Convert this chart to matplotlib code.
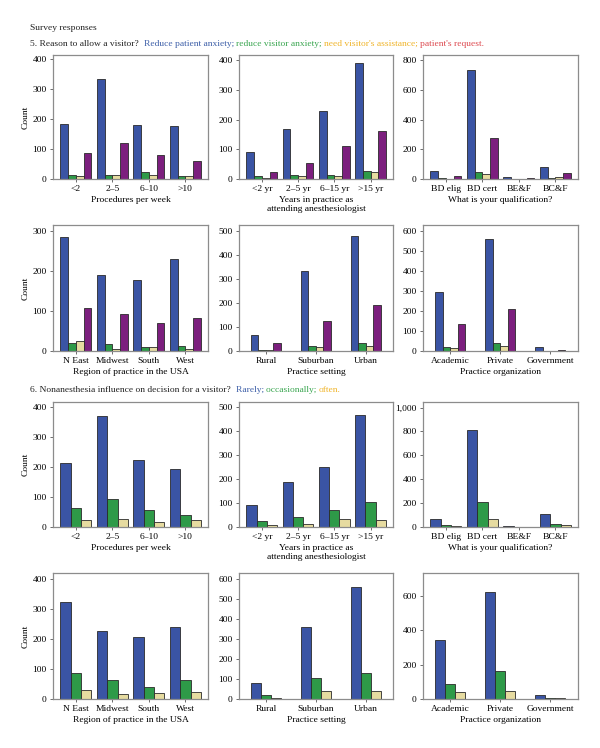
import matplotlib.pyplot as plt
import numpy as np
from matplotlib.ticker import StrMethodFormatter

plt.rcParams['font.family'] = ['Liberation Serif', 'DejaVu Serif']
plt.rcParams['font.size'] = 7

# Categories
cat_proc = ['<2', '2–5', '6–10', '>10']
cat_years = ['<2 yr', '2–5 yr', '6–15 yr', '>15 yr']
cat_qual = ['BD elig', 'BD cert', 'BE&F', 'BC&F']
cat_region = ['N East', 'Midwest', 'South', 'West']
cat_setting = ['Rural', 'Suburban', 'Urban']
cat_org = ['Academic', 'Private', 'Government']

# Q5: patient anxiety, visitor anxiety, visitor's assistance, patient's request
q5_proc = [[185, 335, 180, 176], [15, 15, 22, 9], [10, 15, 14, 10], [88, 122, 80, 61]]
q5_years = [[92, 168, 230, 389], [9, 14, 14, 28], [5, 10, 10, 25], [22, 55, 111, 162]]
q5_qual = [[53, 733, 12, 80], [5, 47, 1, 6], [3, 33, 1, 12], [20, 278, 4, 42]]
q5_region = [[283, 190, 177, 230], [21, 18, 9, 13], [26, 6, 9, 4], [108, 91, 69, 81]]
q5_setting = [[68, 333, 479], [4, 20, 35], [4, 18, 22], [32, 126, 192]]
q5_org = [[297, 558, 22], [18, 42, 1], [17, 27, 1], [135, 208, 5]]

# Q6: rarely, occasionally, often
q6_proc = [[214, 370, 224, 192], [62, 94, 58, 40], [24, 27, 16, 24]]
q6_years = [[92, 188, 252, 465], [24, 42, 71, 106], [7, 11, 35, 30]]
q6_qual = [[69, 811, 10, 106], [16, 206, 4, 25], [6, 69, 3, 18]]
q6_region = [[321, 227, 207, 241], [86, 64, 40, 64], [30, 17, 19, 23]]
q6_setting = [[80, 357, 558], [19, 105, 128], [7, 40, 40]]
q6_org = [[346, 623, 22], [87, 163, 6], [42, 47, 3]]

BLUE = '#3a54a4'
GREEN = '#2e9a48'
TAN = '#e6dba0'
PURPLE = '#7c1f7e'
COLS5 = [BLUE, GREEN, TAN, PURPLE]
COLS6 = [BLUE, GREEN, TAN]

fig = plt.figure(figsize=(6, 7.48), dpi=100)
W, H = 600.0, 748.0


def rect(x0, x1, y0, y1):
    """pixel box -> figure fraction"""
    return [x0 / W, 1 - y1 / H, (x1 - x0) / W, (y1 - y0) / H]


def panel(box, cats, series, cols, xlim, ymax, yticks, group_w, xlabel, ylabel=None):
    ax = fig.add_axes(box)
    n = len(series)
    bw = group_w / n
    x = np.arange(len(cats))
    for i, vals in enumerate(series):
        ax.bar(x - group_w / 2 + bw * (i + 0.5), vals, bw, color=cols[i],
               edgecolor='#2a2a2a', linewidth=0.6)
    ax.set_xlim(xlim)
    ax.set_ylim(0, ymax)
    ax.set_xticks(x)
    ax.set_xticklabels(cats)
    ax.set_yticks(yticks)
    ax.yaxis.set_major_formatter(StrMethodFormatter('{x:,.0f}'))
    ax.tick_params(length=2.5, width=0.6, color='#555555', labelsize=6.8, pad=2)
    for s in ax.spines.values():
        s.set_color('#8c8c8c')
        s.set_linewidth(0.9)
    ax.set_xlabel(xlabel, fontsize=6.8, labelpad=2)
    if ylabel:
        ax.set_ylabel(ylabel, fontsize=6.8, labelpad=2)
    return ax


def colored_line(x, y, parts, fs=6.8):
    """Write several coloured pieces of text one after another"""
    r = fig.canvas.get_renderer()
    for txt, col in parts:
        t = fig.text(x, y, txt, color=col, fontsize=fs, va='baseline')
        bb = t.get_window_extent(r)
        x += bb.width / W


# Column / row pixel boxes
c1 = (53, 208)
c2 = (239, 393)
c3 = (423, 578)
rows = [(55, 179), (225, 351), (402, 527), (573, 699)]

xl4 = (-0.63, 3.62)
xl3 = (-0.54, 2.55)

# Section 5
panel(rect(*c1, *rows[0]), cat_proc, q5_proc, COLS5, xl4, 415, range(0, 401, 100), 0.85,
      'Procedures per week', 'Count')
panel(rect(*c2, *rows[0]), cat_years, q5_years, COLS5, xl4, 417, range(0, 401, 100), 0.85,
      'Years in practice as\nattending anesthesiologist')
panel(rect(*c3, *rows[0]), cat_qual, q5_qual, COLS5, xl4, 835, range(0, 801, 200), 0.85,
      'What is your qualification?')
panel(rect(*c1, *rows[1]), cat_region, q5_region, COLS5, xl4, 314, range(0, 301, 100), 0.85,
      'Region of practice in the USA', 'Count')
panel(rect(*c2, *rows[1]), cat_setting, q5_setting, COLS5, xl3, 525, range(0, 501, 100), 0.6,
      'Practice setting')
panel(rect(*c3, *rows[1]), cat_org, q5_org, COLS5, xl3, 630, range(0, 601, 100), 0.6,
      'Practice organization')

# Section 6
panel(rect(*c1, *rows[2]), cat_proc, q6_proc, COLS6, xl4, 417, range(0, 401, 100), 0.85,
      'Procedures per week', 'Count')
panel(rect(*c2, *rows[2]), cat_years, q6_years, COLS6, xl4, 521, range(0, 501, 100), 0.85,
      'Years in practice as\nattending anesthesiologist')
panel(rect(*c3, *rows[2]), cat_qual, q6_qual, COLS6, xl4, 1047, range(0, 1001, 200), 0.85,
      'What is your qualification?')
panel(rect(*c1, *rows[3]), cat_region, q6_region, COLS6, xl4, 419, range(0, 401, 100), 0.85,
      'Region of practice in the USA', 'Count')
panel(rect(*c2, *rows[3]), cat_setting, q6_setting, COLS6, xl3, 628, range(0, 601, 100), 0.6,
      'Practice setting')
panel(rect(*c3, *rows[3]), cat_org, q6_org, COLS6, xl3, 734, range(0, 601, 200), 0.6,
      'Practice organization')

# Headings
fig.text(30 / W, 1 - 30 / H, 'Survey responses', fontsize=6.8, color='#222222')
colored_line(30 / W, 1 - 46 / H, [
    ('5. Reason to allow a visitor?  ', '#222222'),
    ('Reduce patient anxiety; ', '#3d5fa8'),
    ('reduce visitor anxiety; ', '#3aa650'),
    ("need visitor's assistance; ", '#f0b429'),
    ("patient's request.", '#dd4a50')])
colored_line(30 / W, 1 - 392 / H, [
    ('6. Nonanesthesia influence on decision for a visitor?  ', '#222222'),
    ('Rarely; ', '#3d5fa8'),
    ('occasionally; ', '#3aa650'),
    ('often.', '#f0b429')])

fig.savefig('out.png', dpi=100)
